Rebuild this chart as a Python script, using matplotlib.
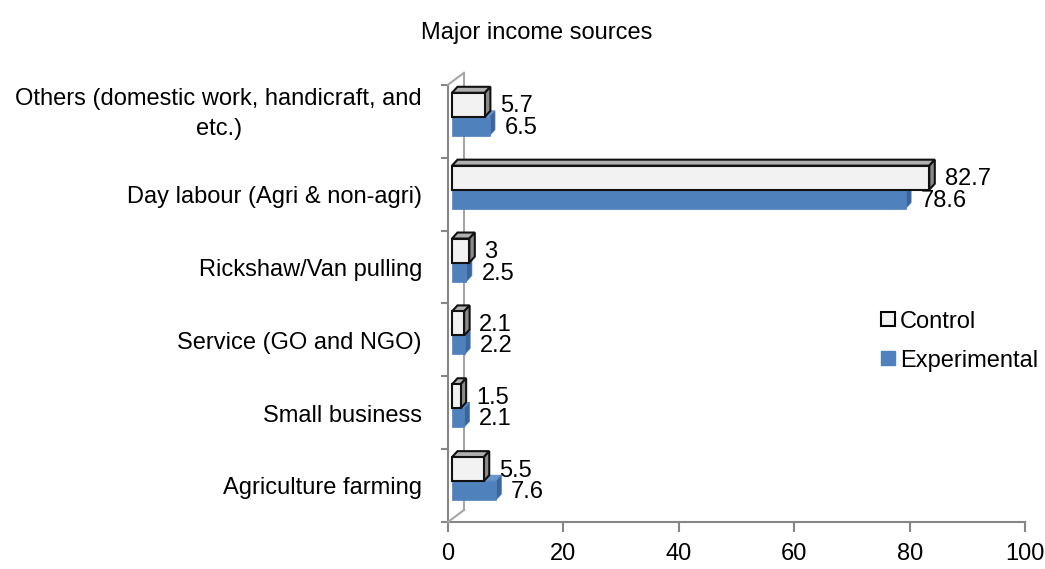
import numpy as np
import matplotlib.pyplot as plt
from matplotlib.patches import Polygon, Rectangle, Patch
from matplotlib.transforms import ScaledTranslation, blended_transform_factory

plt.rcParams['font.family'] = ['Liberation Sans', 'DejaVu Sans']

# Data (top to bottom, as in the chart)
categories = ['Others (domestic work, handicraft, and\netc.)',
              'Day labour (Agri & non-agri)',
              'Rickshaw/Van pulling',
              'Service (GO and NGO)',
              'Small business',
              'Agriculture farming']
control = [5.7, 82.7, 3, 2.1, 1.5, 5.5]
experimental = [6.5, 78.6, 2.5, 2.2, 2.1, 7.6]
control_labels = ['5.7', '82.7', '3', '2.1', '1.5', '5.5']
experimental_labels = ['6.5', '78.6', '2.5', '2.2', '2.1', '7.6']
xticks = [0, 20, 40, 60, 80, 100]

FS = 17

fig = plt.figure(figsize=(10.45, 5.69), dpi=100)
ax = fig.add_axes([0.4287, 0.0826, 0.981 - 0.4287, 0.851 - 0.0826])
ax.set_xlim(0, 100)
ax.set_ylim(len(categories) - 0.5, -0.5)

# depth of the fake 3D bars, in data units (~6 px each way)
bb = ax.get_position()
px_x = 100 / (bb.width * 1045)
px_y = len(categories) / (bb.height * 569)
dx, dy = 5.5 * px_x, -6 * px_y
x_base = 4 * px_x  # bars sit slightly inside the floor


def bar3d(v, y0, h, front, top, side, edge, lw):
    x0, x1 = x_base, x_base + v
    y1 = y0 + h  # y0 is upper edge (axis inverted)
    ax.add_patch(Polygon([(x0, y0), (x1, y0), (x1 + dx, y0 + dy), (x0 + dx, y0 + dy)],
                         closed=True, facecolor=top, edgecolor=edge, lw=lw, zorder=3))
    ax.add_patch(Polygon([(x1, y0), (x1, y1), (x1 + dx, y1 + dy), (x1 + dx, y0 + dy)],
                         closed=True, facecolor=side, edgecolor=edge, lw=lw, zorder=3))
    ax.add_patch(Rectangle((x0, y0), v, h, facecolor=front, edgecolor=edge,
                           lw=lw, zorder=3))


for i, (c, e) in enumerate(zip(control, experimental)):
    yc, hc = i - 0.39, 0.33
    ye, he = i - 0.06, 0.26
    bar3d(e, ye, he, '#4F81BD', '#6A96CC', '#3A6699', '#4F81BD', 0.5)
    bar3d(c, yc, hc, '#F2F2F2', '#B0B0B0', '#8A8A8A', '#111111', 1.5)
    ax.annotate(control_labels[i], (x_base + c + dx, yc + hc / 2 + 0.02), xytext=(7, 0),
                textcoords='offset points', va='center', ha='left', fontsize=FS)
    ax.annotate(experimental_labels[i], (x_base + e + dx, ye + he / 2 + 0.02), xytext=(7, 0),
                textcoords='offset points', va='center', ha='left', fontsize=FS)

# axes styling
for s in ['top', 'right']:
    ax.spines[s].set_visible(False)
for s in ['left', 'bottom']:
    ax.spines[s].set_color('#868686')
    ax.spines[s].set_linewidth(1.5)

ax.set_xticks(xticks)
ax.tick_params(axis='x', direction='out', length=7, width=1.5, color='#868686',
               labelsize=FS, pad=8)

# category labels
ax.set_yticks(np.arange(-0.5, len(categories), 1))
ax.set_yticklabels([])
ax.tick_params(axis='y', direction='out', length=5, width=1.5, color='#868686')
lab_tr = blended_transform_factory(ax.transAxes, ax.transData) + \
    ScaledTranslation(-0.26, 0, fig.dpi_scale_trans)
for i, name in enumerate(categories):
    two_lines = '\n' in name
    ax.text(0, i - 0.1 if two_lines else i + 0.04, name, transform=lab_tr,
            ha='right', va='center', multialignment='center', fontsize=FS,
            linespacing=1.45)

# back wall lines of the 3D frame
off = ScaledTranslation(0.16, 0.12, fig.dpi_scale_trans)
t_back = ax.transAxes + off
ax.plot([0, 0], [0, 1], transform=t_back, color='#A6A6A6', lw=1.5, clip_on=False)
for yy in [0, 1]:
    x0, y0 = ax.transAxes.transform((0, yy))
    x1, y1 = t_back.transform((0, yy))
    fig.add_artist(plt.Line2D([x0 / 1045, x1 / 1045], [y0 / 569, y1 / 569],
                              transform=fig.transFigure, color='#A6A6A6', lw=1.5))

fig.text(537 / 1045, 1 - 33 / 569, 'Major income sources', ha='center', va='center',
         fontsize=FS)

handles = [Patch(facecolor='#F2F2F2', edgecolor='black', lw=1.5, label='Control'),
           Patch(facecolor='#4F81BD', edgecolor='#4F81BD', label='Experimental')]
fig.legend(handles=handles, loc='center left', bbox_to_anchor=(881 / 1045, 1 - 341 / 569),
           frameon=False, fontsize=FS, handlelength=0.6, handleheight=0.55,
           handletextpad=0.2, labelspacing=0.72, borderpad=0, borderaxespad=0)

fig.savefig('out.png', dpi=100)
